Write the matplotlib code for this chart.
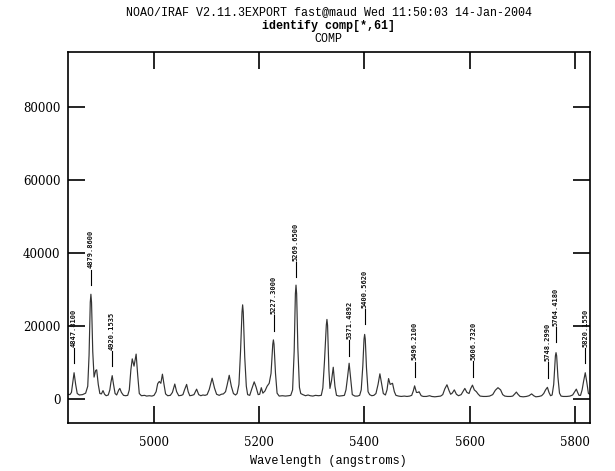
import matplotlib
matplotlib.use('Agg')
import matplotlib.pyplot as plt
import numpy as np

# spectrum (wavelength in angstroms, counts)
wavelength = [
    4836, 4840, 4843, 4845, 4848, 4851, 4854, 4858, 4864, 4870,
    4874, 4876.5, 4878.8, 4880, 4881.2, 4883.5, 4886, 4889, 4891, 4894,
    4897, 4900, 4903, 4906, 4909, 4913, 4916, 4918, 4920.5, 4923,
    4926, 4929, 4933, 4935, 4938, 4942, 4946, 4950, 4953, 4956,
    4958.6, 4962, 4966, 4969, 4972, 4976, 4982, 4986, 4991, 4996,
    5000, 5004, 5007, 5010, 5013, 5016, 5019, 5022, 5026, 5031,
    5035, 5039.5, 5043, 5047, 5052, 5055, 5058, 5062, 5065, 5068,
    5072, 5076, 5081, 5085, 5089, 5093, 5097, 5101, 5105, 5110.5,
    5115, 5119, 5124, 5128, 5132, 5136, 5139, 5143, 5147, 5151,
    5155, 5158, 5161.5, 5164.5, 5167.3, 5168.5, 5169.7, 5172.5, 5175.5, 5178,
    5182, 5186, 5190.5, 5194, 5198, 5201, 5204, 5207, 5211, 5215,
    5219, 5222.5, 5225.8, 5227, 5228.2, 5231, 5234, 5238, 5244, 5250,
    5256, 5260, 5263.5, 5266.5, 5268.8, 5270, 5271.2, 5273.5, 5276.5, 5279,
    5283, 5288, 5293, 5297, 5302, 5307, 5313, 5318, 5321, 5324,
    5327.6, 5328.8, 5330, 5332.5, 5334.5, 5337.5, 5340.8, 5344, 5347, 5352,
    5358, 5362, 5365, 5368, 5371, 5374, 5377, 5382, 5387, 5391,
    5394, 5397, 5399.3, 5400.5, 5401.7, 5404, 5407, 5410, 5414, 5418,
    5422, 5426, 5429.5, 5433, 5436, 5440, 5443, 5446, 5449, 5453.5,
    5457, 5460, 5465, 5470, 5476, 5481, 5486, 5490, 5493, 5495.5,
    5499, 5502, 5504, 5508, 5512, 5518, 5524, 5528, 5534, 5540,
    5545, 5549, 5553, 5557, 5561, 5564, 5567, 5571, 5575, 5579,
    5584, 5588, 5591, 5595, 5599, 5602, 5605.5, 5609, 5613, 5616,
    5620, 5626, 5632, 5638, 5644, 5649, 5654, 5659, 5663, 5667,
    5672, 5678, 5682, 5686, 5689, 5692, 5696, 5702, 5708, 5713,
    5718, 5722, 5726, 5732, 5737, 5741, 5744.5, 5748, 5751, 5754,
    5757, 5760, 5763.2, 5764.4, 5765.6, 5768, 5771, 5774, 5778, 5785,
    5791, 5796, 5800, 5803, 5805.5, 5808, 5811, 5814, 5817, 5820,
    5823, 5826, 5829,
]
counts = [
    1300, 1200, 1800, 4000, 7200, 4000, 1500, 1100, 1200, 1600,
    3500, 12000, 26500, 28700, 26500, 13000, 6000, 7800, 8000, 4000,
    1500, 1400, 2300, 1300, 900, 1100, 2500, 4500, 6400, 4000,
    1500, 1100, 2500, 2900, 1800, 1000, 900, 1000, 2500, 8000,
    11000, 9000, 12300, 6500, 1500, 900, 1000, 800, 900, 800,
    1000, 2000, 4200, 4800, 4300, 6800, 4000, 1400, 900, 1000,
    1800, 4100, 2000, 900, 1000, 1200, 2500, 4000, 2000, 900,
    1000, 1200, 2700, 1200, 900, 1100, 1000, 1200, 2600, 5700,
    3000, 1300, 1000, 1300, 1400, 2000, 3800, 6500, 3500, 1500,
    1100, 1500, 4000, 13000, 23800, 25800, 23800, 11500, 3500, 1200,
    1000, 2800, 4700, 3300, 1200, 1300, 3100, 1600, 2200, 3500,
    4300, 7000, 15000, 16200, 15000, 7000, 1600, 800, 900, 800,
    900, 1000, 2500, 13000, 28800, 31200, 28800, 14000, 3200, 1500,
    1200, 900, 1100, 900, 800, 1000, 900, 1000, 3000, 10000,
    20200, 21800, 20200, 8000, 2900, 5000, 8700, 3500, 1000, 800,
    900, 1000, 2500, 6000, 9800, 5500, 1200, 800, 800, 1000,
    2500, 9000, 16400, 17700, 16400, 8500, 2000, 1200, 900, 1000,
    1500, 4000, 6900, 4000, 1500, 1100, 2500, 5600, 4000, 4300,
    2000, 1000, 800, 700, 800, 700, 800, 1000, 2200, 3600,
    1800, 1800, 2000, 900, 700, 700, 900, 700, 600, 700,
    800, 1200, 2800, 3900, 2300, 1300, 1600, 2500, 1300, 900,
    1200, 2200, 2900, 1800, 1500, 2800, 3800, 2500, 2000, 1400,
    800, 700, 700, 800, 1200, 2400, 3100, 2500, 1200, 800,
    700, 700, 800, 1400, 1900, 1300, 700, 600, 700, 900,
    1400, 900, 600, 700, 900, 1500, 2500, 3200, 1800, 900,
    1100, 4000, 11800, 12700, 11800, 6000, 1600, 800, 700, 700,
    800, 1100, 2000, 2700, 1800, 1000, 1000, 2500, 5000, 7200,
    4500, 1500, 1300,
]

# identified lines
line_wl = [4847.81, 4879.86, 4920.1535, 5227.3, 5269.65, 5371.4892,
           5400.562, 5496.21, 5606.732, 5748.299, 5764.418, 5820.155]
line_labels = ['4847.8100', '4879.8600', '4920.1535', '5227.3000',
               '5269.6500', '5371.4892', '5400.5620', '5496.2100',
               '5606.7320', '5748.2990', '5764.4180', '5820.1550']

xticks = [5000, 5200, 5400, 5600, 5800]
yticks = [0, 20000, 40000, 60000, 80000]

serif = 'DejaVu Serif'


def main():
    fig = plt.figure(figsize=(6.15, 4.71), dpi=100)
    ax = fig.add_axes([67.5 / 615, 1 - 423 / 471, (590 - 67.5) / 615, (423 - 52) / 471])

    ax.plot(wavelength, counts, color='#333333', lw=0.85)

    ax.set_xlim(4835.5, 5829)
    ax.set_ylim(-6575, 95070)

    # line marks: short bar above the data, label on top of it
    gap, bar = 2800, 4200
    for wl, lab in zip(line_wl, line_labels):
        y0 = np.interp(wl, wavelength, counts) + gap
        ax.plot([wl, wl], [y0, y0 + bar], color='black', lw=0.8)
        ax.text(wl, y0 + bar + 10800, lab, rotation=90, ha='center', va='top',
                fontsize=5.0, family='DejaVu Sans Mono', fontweight='bold',
                color='#111111')

    ax.set_xticks(xticks)
    ax.set_yticks(yticks)
    ax.set_xticklabels([str(t) for t in xticks], family=serif, fontsize=8.5)
    ax.set_yticklabels([str(t) for t in yticks], family=serif, fontsize=8.5)
    ax.tick_params(direction='in', length=12, width=1.2, top=True, right=True)
    ax.tick_params(axis='x', pad=9)
    ax.tick_params(axis='y', pad=5)
    for s in ax.spines.values():
        s.set_linewidth(1.2)

    ax.set_xlabel('Wavelength (angstroms)', family='Liberation Mono', fontsize=8.6,
                  labelpad=5)

    cx = (67.5 + 590) / 2 / 615
    fig.text(cx, 1 - 12 / 471, 'NOAO/IRAF V2.11.3EXPORT fast@maud Wed 11:50:03 14-Jan-2004',
             ha='center', va='center', family='Liberation Mono', fontsize=8.4)
    fig.text(cx, 1 - 26 / 471, 'identify comp[*,61]', ha='center', va='center',
             family='Liberation Mono', fontsize=8.4, fontweight='bold')
    fig.text(cx, 1 - 39 / 471, 'COMP', ha='center', va='center',
             family='Liberation Mono', fontsize=8.4)

    fig.savefig('out.png', dpi=100)


if __name__ == '__main__':
    main()
